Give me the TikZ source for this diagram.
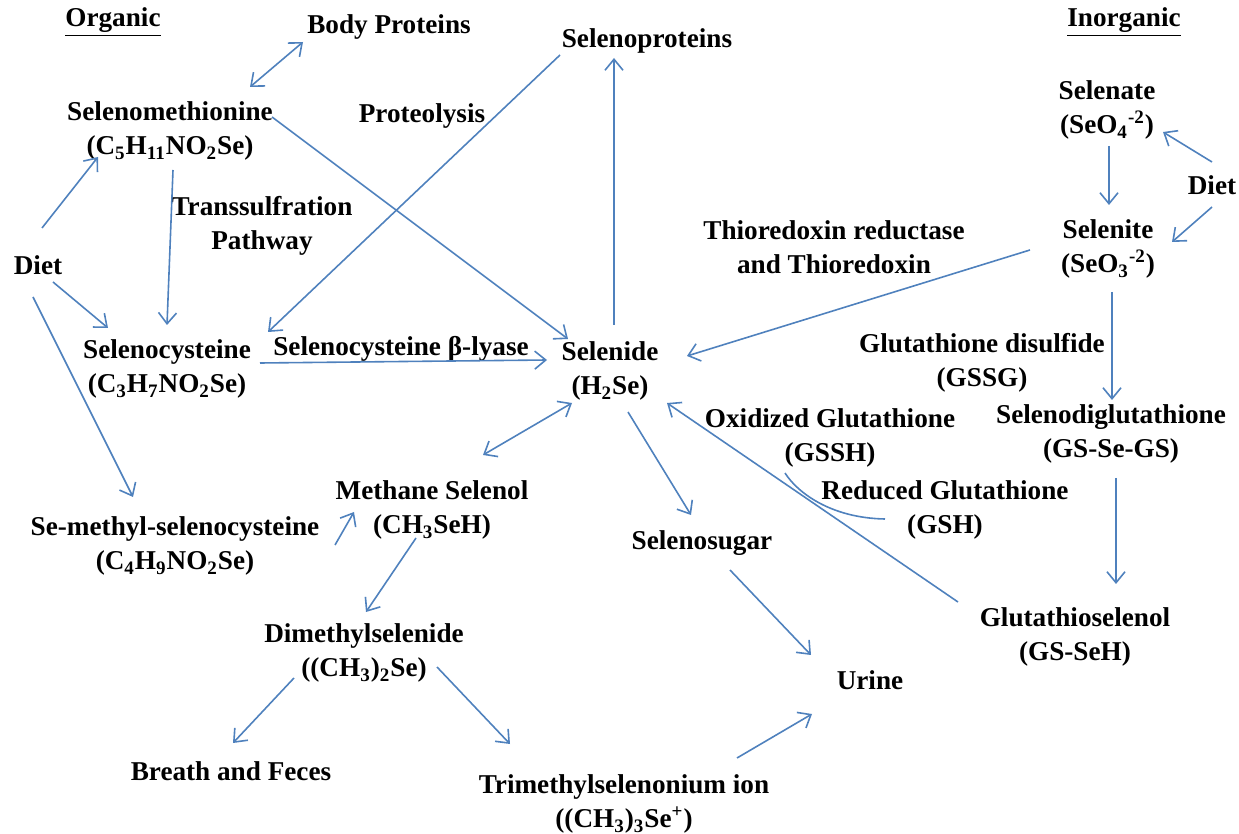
\documentclass[tikz,border=0pt]{standalone}
\usepackage{fontspec}
\setmainfont{Liberation Serif}
\usetikzlibrary{arrows.meta,calc}
\definecolor{lineblue}{RGB}{79,129,189}
\newcommand{\chemsub}[1]{\textsubscript{#1}}

\begin{document}
\begin{tikzpicture}[
  x=0.5pt, y=-0.5pt,
  >={Straight Barb[length=5.5pt,width=9pt]},
  chem/.style={align=center, inner sep=0pt,
               font=\fontsize{13.6}{17.2}\selectfont\bfseries},
  flow/.style={->, draw=lineblue, line width=0.8pt},
  both/.style={<->, draw=lineblue, line width=0.8pt},
  plain/.style={draw=lineblue, line width=0.8pt}
]
  \useasboundingbox (0,0) rectangle (1239,834);
  % Headings
  \node[chem] (org) at (113,22) {\underline{Organic}};
  \node[chem] (inorg) at (1124,22) {\underline{Inorganic}};
  % Organic side
  \node[chem] (bodyprot) at (389,27) {Body Proteins};
  \node[chem] (selprot) at (647,41) {Selenoproteins};
  \node[chem] (smet) at (170,131) {Selenomethionine\\(C\chemsub{5}H\chemsub{11}NO\chemsub{2}Se)};
  \node[chem] (proteo) at (422,116) {Proteolysis};
  \node[chem] (dietl) at (38,265) {Diet};
  \node[chem] (transs) at (262,226) {Transsulfration\\Pathway};
  \node[chem] (scys) at (167,369) {Selenocysteine\\(C\chemsub{3}H\chemsub{7}NO\chemsub{2}Se)};
  \node[chem] (lyase) at (401,349) {Selenocysteine β-lyase};
  \node[chem] (smsc) at (175,546) {Se-methyl-selenocysteine\\(C\chemsub{4}H\chemsub{9}NO\chemsub{2}Se)};
  \node[chem] (msel) at (432,510) {Methane Selenol\\(CH\chemsub{3}SeH)};
  \node[chem] (dmse) at (364,653) {Dimethylselenide\\((CH\chemsub{3})\chemsub{2}Se)};
  \node[chem] (breath) at (231,771) {Breath and Feces};
  \node[chem] (tmse) at (624,804) {Trimethylselenonium ion\\((CH\chemsub{3})\chemsub{3}Se\textsuperscript{+})};
  % Centre
  \node[chem] (selenide) at (610,371) {Selenide\\(H\chemsub{2}Se)};
  \node[chem] (ssugar) at (702,543) {Selenosugar};
  \node[chem] (urine) at (870,680) {Urine};
  % Inorganic side
  \node[chem] (selenate) at (1107,110) {Selenate\\(SeO\chemsub{4}\textsuperscript{-2})};
  \node[chem] (dietr) at (1212,185) {Diet};
  \node[chem] (selenite) at (1108,249) {Selenite\\(SeO\chemsub{3}\textsuperscript{-2})};
  \node[chem] (thio) at (834,247) {Thioredoxin reductase\\and Thioredoxin};
  \node[chem] (gssg) at (982,363) {Glutathione disulfide\\(GSSG)};
  \node[chem] (sdg) at (1111,434) {Selenodiglutathione\\(GS-Se-GS)};
  \node[chem] (gssh) at (830,438) {Oxidized Glutathione\\(GSSH)};
  \node[chem] (gsh) at (945,510) {Reduced Glutathione\\(GSH)};
  \node[chem] (gsse) at (1075,637) {Glutathioselenol\\(GS-SeH)};
  % Organic pathways
  \draw[both] ($(smet)+(80,-44)$) -- ($(bodyprot)+(-86,15)$);
  \draw[flow] ($(smet)+(102,-14)$) -- ($(selenide)+(-42,-32)$);
  \draw[flow] ($(selprot)+(-87,14)$) -- ($(scys)+(101,-37)$);
  \draw[flow] ($(selenide)+(4,-46)$) -- ($(selprot)+(-33,17)$);
  \draw[flow] ($(dietl)+(4,-37)$) -- ($(smet)+(-72,26)$);
  \draw[flow] ($(dietl)+(15,17)$) -- ($(scys)+(-59,-41)$);
  \draw[flow] ($(dietl)+(-5,32)$) -- ($(smsc)+(-42,-49)$);
  \draw[flow] ($(smet)+(3,39)$) -- ($(scys)+(0,-44)$);
  \draw[flow] ($(scys)+(93,-6)$) -- ($(selenide)+(-63,-11)$);
  \draw[both] ($(selenide)+(-38,32)$) -- ($(msel)+(51,-55)$);
  \draw[flow] ($(smsc)+(160,-1)$) -- ($(msel)+(-78,2)$);
  \draw[flow] ($(msel)+(-16,28)$) -- ($(dmse)+(2,-41)$);
  \draw[flow] ($(dmse)+(-70,25)$) -- ($(breath)+(2,-28)$);
  \draw[flow] ($(dmse)+(73,14)$) -- ($(tmse)+(-114,-60)$);
  \draw[flow] ($(tmse)+(113,-46)$) -- ($(urine)+(-58,34)$);
  \draw[flow] ($(selenide)+(18,41)$) -- ($(ssugar)+(-11,-28)$);
  \draw[flow] ($(ssugar)+(28,27)$) -- ($(urine)+(-59,-25)$);
  % Inorganic pathways
  \draw[flow] ($(dietr)+(0,-23)$) -- ($(selenate)+(56,22)$);
  \draw[flow] ($(dietr)+(0,22)$) -- ($(selenite)+(64,-7)$);
  \draw[flow] ($(selenate)+(2,36)$) -- ($(selenite)+(1,-44)$);
  \draw[flow] ($(selenite)+(-78,1)$) -- ($(selenide)+(77,-15)$);
  \draw[flow] ($(selenite)+(4,43)$) -- ($(sdg)+(1,-34)$);
  \draw[flow] ($(sdg)+(5,44)$) -- ($(gsse)+(41,-53)$);
  \draw[flow] ($(gsse)+(-117,-35)$) -- ($(selenide)+(57,32)$);
  % Glutathione redox
  \draw[plain] ($(gssh)+(-45,35)$) .. controls ($(gssh)+(-33,54)$) and ($(gsh)+(-115,8)$) .. ($(gsh)+(-60,9)$);
\end{tikzpicture}
\end{document}
